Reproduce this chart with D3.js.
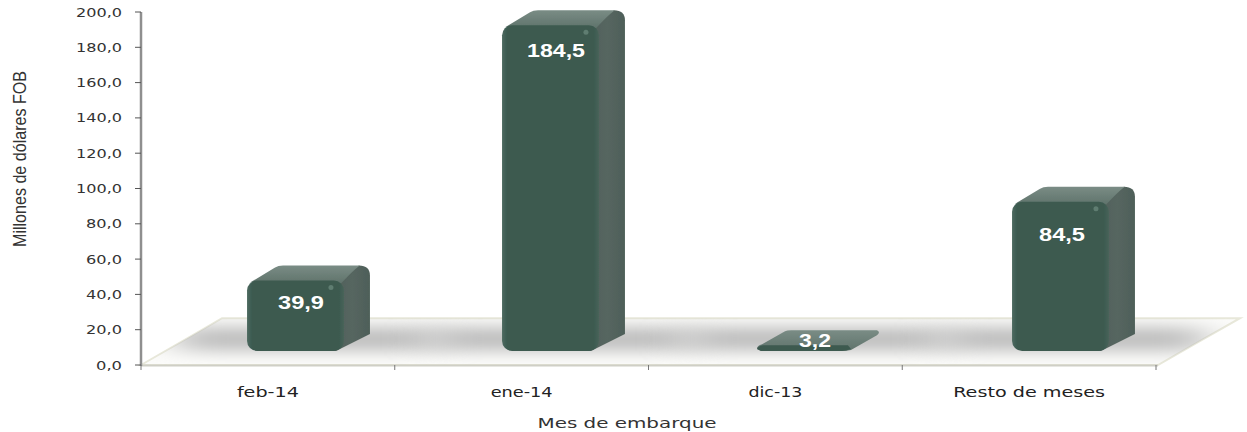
<!DOCTYPE html>
<html><head><meta charset="utf-8">
<script src="https://cdn.jsdelivr.net/npm/d3@7"></script>
<style>html,body{margin:0;background:#fff}svg{display:block}</style></head>
<body><script>
const categories=["feb-14","ene-14","dic-13","Resto de meses"];
const values=[39.9,184.5,3.2,84.5];
const valueLabels=["39,9","184,5","3,2","84,5"];
const yTicks=[0,20,40,60,80,100,120,140,160,180,200];
const yTitle="Millones de dólares FOB";
const xTitle="Mes de embarque";

const W=1247,H=432;
const svg=d3.select("body").append("svg").attr("width",W).attr("height",H);
const y=d3.scaleLinear().domain([0,200]).range([365,12]);
const x=d3.scaleBand().domain(categories).range([141,1156]);
const xBar=d3.scaleBand().domain(categories).range([168,1188]).paddingInner(0.62).paddingOuter(0.31);
const fmt=d=>d.toFixed(1).replace(".",",");
const defs=svg.append("defs");
const grad=(id,stops,x2,y2)=>{const g=defs.append("linearGradient").attr("id",id).attr("x1",0).attr("y1",0).attr("x2",x2).attr("y2",y2);
 stops.forEach(s=>g.append("stop").attr("offset",s[0]).attr("stop-color",s[1]));};
grad("front",[[0,"#4d6a60"],[.05,"#3c5a50"],[.95,"#3d5a50"],[1,"#486459"]],1,0);
grad("side",[[0,"#4f605a"],[.5,"#566660"],[1,"#4e5f59"]],1,0);
grad("top",[[0,"#7a8c85"],[1,"#5f736b"]],0,1);
const f=defs.append("filter").attr("id","blur").attr("filterUnits","userSpaceOnUse").attr("x",0).attr("y",250).attr("width",W).attr("height",170);
f.append("feGaussianBlur").attr("stdDeviation","22 8");
defs.append("filter").attr("id","soft").attr("x","-5%").attr("y","-5%").attr("width","110%").attr("height","110%")
 .append("feGaussianBlur").attr("stdDeviation","0.6");
defs.append("clipPath").attr("id","floorClip").append("polygon").attr("points",`141,${y(0)} 222,${y(26.5)} 1240,${y(26.5)} 1158,${y(0)}`);

// floor
const dxF=81, floorTop=y(26.5);
svg.append("path").attr("d",`M141,${y(0)}L${141+dxF},${floorTop}H1240L1158,${y(0)}Z`)
 .attr("fill","#fcfcfa").attr("stroke","#e8e8da").attr("stroke-width",2);
const shadows=svg.append("g").attr("clip-path","url(#floorClip)");
categories.forEach(c=>{
 shadows.append("rect").attr("x",xBar(c)-70).attr("y",y(0)-38).attr("width",xBar.bandwidth()+165).attr("height",24)
  .attr("fill","#bdbdbd").attr("filter","url(#blur)");
});
// axes
svg.append("line").attr("x1",141).attr("x2",1158).attr("y1",y(0)+.5).attr("y2",y(0)+.5).attr("stroke","#cfcfc6").attr("stroke-width",2);
svg.append("line").attr("x1",141).attr("x2",141).attr("y1",y(200)).attr("y2",y(0)+1).attr("stroke","#8f8f8f").attr("stroke-width",2.5);
const yG=svg.append("g");
yTicks.forEach(t=>{
 yG.append("line").attr("x1",135).attr("x2",141).attr("y1",y(t)).attr("y2",y(t)).attr("stroke","#555");
 yG.append("text").attr("x",122).attr("y",y(t)+4.5).attr("text-anchor","end").attr("textLength",t===0?26:t<100?36:46).attr("lengthAdjust","spacingAndGlyphs")
  .attr("font-family","DejaVu Sans").attr("font-size",13).attr("fill","#333").text(fmt(t));
});
[...categories.map(c=>x(c)),x.range()[1]].forEach(px=>{
 svg.append("line").attr("x1",px).attr("x2",px).attr("y1",y(0)).attr("y2",y(0)+5).attr("stroke","#777");
});
// bars
const dx=26,dy=15,r=10;
const front0=y(0)-14;
const barH=v=>y(0)-y(v);
const labelW=[46,58,32,46], labelX=[301,556,815,1062], labelDy=[28,32,2,39];
categories.forEach((c,i)=>{
 const bx=xBar(c),bw=xBar.bandwidth(),h=barH(values[i]),top=front0-h,g=svg.append("g");
 const cr=Math.min(r,h/2);
 if(h>12){
  g.append("path").attr("d",`M${bx+bw-8},${front0}L${bx+bw+dx},${front0-dy-2}V${top-dy+10}Q${bx+bw+dx},${top-dy} ${bx+bw+dx-11},${top-dy}L${bx+bw-10},${top}V${front0}Z`).attr("fill","url(#side)").attr("filter","url(#soft)");
  g.append("path").attr("d",`M${bx+3},${top+2}L${bx+dx+2},${top-dy+2}Q${bx+dx+5},${top-dy} ${bx+dx+10},${top-dy}H${bx+bw+dx-10}Q${bx+bw+dx-14},${top-dy+2} ${bx+bw-3},${top+3}Z`).attr("fill","url(#top)").attr("filter","url(#soft)");
  g.append("rect").attr("x",bx).attr("y",top).attr("width",bw).attr("height",h).attr("rx",cr).attr("ry",cr).attr("fill","url(#front)").attr("filter","url(#soft)");
  g.append("circle").attr("cx",bx+bw-13).attr("cy",top+7).attr("r",2.5).attr("fill","#5f7d71").attr("filter","url(#soft)");
 } else {
  g.append("path").attr("d",`M${bx},${front0-2}Q${bx},${top} ${bx+5},${top-1}L${bx+dx+2},${top-dy+1}Q${bx+dx+4},${top-dy} ${bx+dx+8},${top-dy}H${bx+bw+dx-3}Q${bx+bw+dx+1},${top-dy+2} ${bx+bw+dx-3},${top-dy+5}L${bx+bw-3},${front0-1}Q${bx+bw-8},${front0} ${bx+bw-12},${front0}H${bx+4}Z`).attr("fill","url(#top)").attr("filter","url(#soft)");
  g.append("path").attr("d",`M${bx},${front0-2}Q${bx+2},${top} ${bx+6},${top}H${bx+bw-6}L${bx+bw-3},${front0-2}Q${bx+bw-8},${front0} ${bx+bw-12},${front0}H${bx+4}Z`).attr("fill","#3d5a50").attr("filter","url(#soft)");
 }
 svg.append("text").attr("x",labelX[i]).attr("y",top+labelDy[i]).attr("text-anchor","middle").attr("textLength",labelW[i]).attr("lengthAdjust","spacingAndGlyphs")
  .attr("font-family","Liberation Sans").attr("font-weight","bold").attr("font-size",17.5).attr("fill","#fff").text(valueLabels[i]);
});
// x labels
const lens=[62,62,54,152];
categories.forEach((c,i)=>{
 svg.append("text").attr("x",x(c)+x.bandwidth()/2).attr("y",397).attr("text-anchor","middle").attr("textLength",lens[i]).attr("lengthAdjust","spacingAndGlyphs")
  .attr("font-family","DejaVu Sans").attr("font-size",14).attr("fill","#222").text(c);
});
svg.append("text").attr("x",627).attr("y",428).attr("text-anchor","middle").attr("textLength",179).attr("lengthAdjust","spacingAndGlyphs")
 .attr("font-family","DejaVu Sans").attr("font-size",14).attr("fill","#333").text(xTitle);
svg.append("text").attr("transform","translate(26,159) rotate(-90)").attr("text-anchor","middle").attr("textLength",176).attr("lengthAdjust","spacingAndGlyphs")
 .attr("font-family","Liberation Sans").attr("font-size",17.5).attr("fill","#333").text(yTitle);
</script></body></html>
